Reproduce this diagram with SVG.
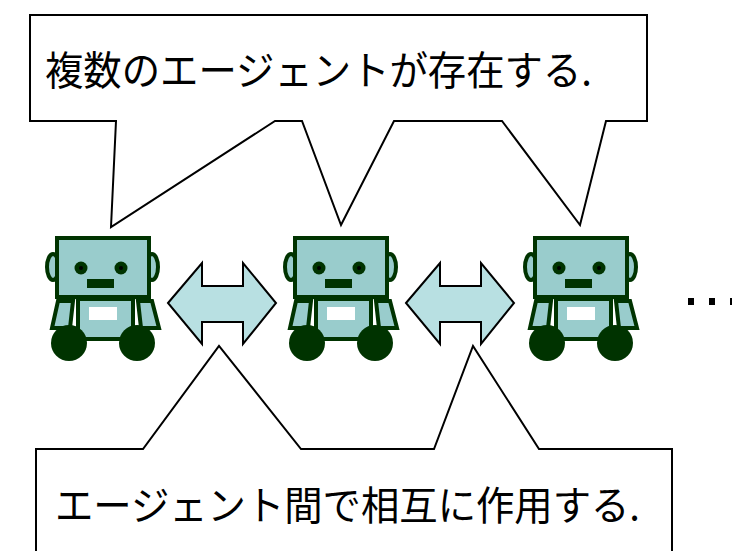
<svg xmlns="http://www.w3.org/2000/svg" xmlns:xlink="http://www.w3.org/1999/xlink" width="732" height="551" viewBox="0 0 732 551">
  <style>
    .body { fill: #99CCCC; stroke: #003300; stroke-width: 4; }
    .dark { fill: #003300; }
    .callout { fill: #FFFFFF; stroke: #000000; stroke-width: 2; stroke-linejoin: miter; }
    .link { fill: #B8E0E2; stroke: #000000; stroke-width: 2; stroke-linejoin: miter; }
    .label { font-family: "Noto Sans CJK JP", "Liberation Sans", sans-serif; font-size: 40px; fill: #000000; }
  </style>
  <defs>
    <!-- robot agent, drawn at its first position -->
    <g id="robot">
      <ellipse class="body" cx="53" cy="267" rx="6" ry="13"/>
      <ellipse class="body" cx="152" cy="267" rx="6" ry="13"/>
      <rect class="body" x="57" y="238" width="92" height="59" stroke-width="5"/>
      <circle class="dark" cx="81" cy="268" r="6.5"/>
      <circle cx="81" cy="268" r="2" fill="#000000"/>
      <circle class="dark" cx="121" cy="268" r="6.5"/>
      <circle cx="121" cy="268" r="2" fill="#000000"/>
      <rect class="dark" x="87" y="279" width="27" height="9"/>
      <polygon class="body" points="58,301 73,301 70,328 52,328"/>
      <polygon class="body" points="138,301 152,301 159,328 141,328"/>
      <rect class="body" x="78" y="299" width="55" height="40"/>
      <rect x="89" y="307" width="28" height="13" fill="#FFFFFF"/>
      <circle class="dark" cx="69" cy="343" r="18"/>
      <circle class="dark" cx="137" cy="343" r="18"/>
    </g>
    <path id="biarrow" d="M168,303 L202,263 L202,286 L243,286 L243,263 L276,303 L243,344 L243,322 L202,322 L202,344 Z"/>
  </defs>

  <g id="agent1"><use xlink:href="#robot"/></g>
  <g id="agent2"><use xlink:href="#robot" transform="translate(238,0)"/></g>
  <g id="agent3"><use xlink:href="#robot" transform="translate(478,0)"/></g>

  <g id="connectors">
    <use class="link" xlink:href="#biarrow"/>
    <use class="link" xlink:href="#biarrow" transform="translate(238,0)"/>
  </g>

  <g id="more">
    <rect x="688" y="298" width="6" height="7" fill="#000000"/>
    <rect x="709" y="298" width="6" height="7" fill="#000000"/>
    <rect x="730" y="298" width="6" height="7" fill="#000000"/>
  </g>

  <g id="callout-top">
    <path class="callout" d="M30,15 H647 V121 H606 L580,225 L502,121 H394 L341,225 L302,121 H275 L111,227 L116,121 H30 Z"/>
    <text class="label" x="45" y="85" textLength="547" lengthAdjust="spacingAndGlyphs">複数のエージェントが存在する.</text>
  </g>

  <g id="callout-bottom">
    <path class="callout" d="M36,560 V449 H143 L219,346 L301,449 H434 L473,346 L539,449 H672 V560"/>
    <text class="label" x="55" y="520" textLength="585" lengthAdjust="spacingAndGlyphs">エージェント間で相互に作用する.</text>
  </g>
</svg>
